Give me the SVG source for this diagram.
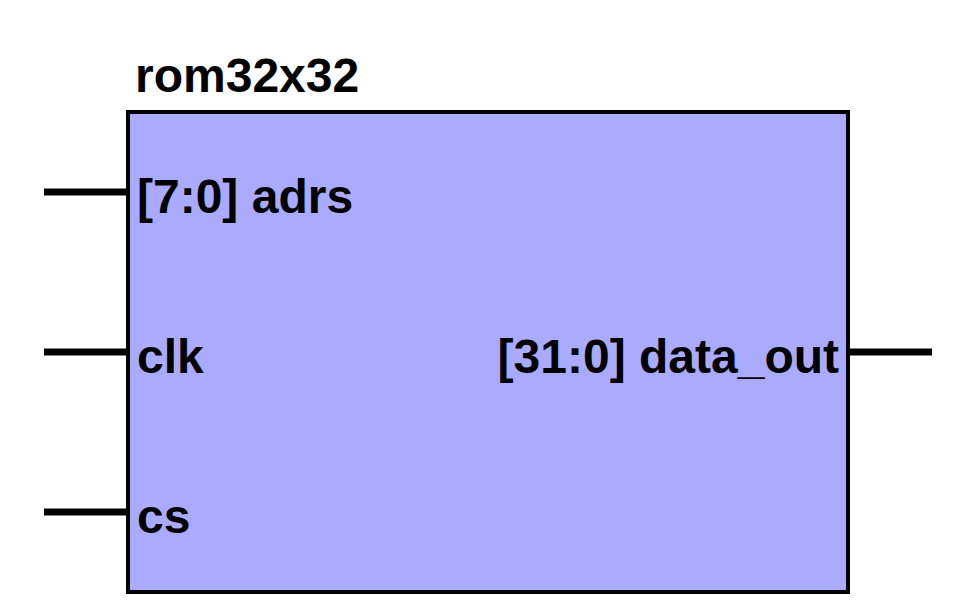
<svg xmlns="http://www.w3.org/2000/svg" width="960" height="610" viewBox="0 0 960 610">
<style>
.lbl{font-family:"Liberation Sans",Arial,sans-serif;font-weight:bold;font-size:48px;fill:#000}
.wire{stroke:#000;stroke-width:7;fill:none}
</style>
<rect width="960" height="610" fill="#fff"/>
<g id="connectors">
<line class="wire" x1="44" y1="192" x2="128" y2="192"/>
<line class="wire" x1="44" y1="352" x2="128" y2="352"/>
<line class="wire" x1="44" y1="512" x2="128" y2="512"/>
<line class="wire" x1="848" y1="352" x2="932" y2="352"/>
</g>
<g id="rom32x32">
<rect x="128" y="112" width="720" height="480" fill="#aaaaff" stroke="#000" stroke-width="4"/>
<text class="lbl" x="135" y="92">rom32x32</text>
<text class="lbl" x="137" y="213">[7:0] adrs</text>
<text class="lbl" x="137" y="373">clk</text>
<text class="lbl" x="137" y="533">cs</text>
<text class="lbl" x="839" y="373" text-anchor="end">[31:0] data_out</text>
</g>
</svg>
